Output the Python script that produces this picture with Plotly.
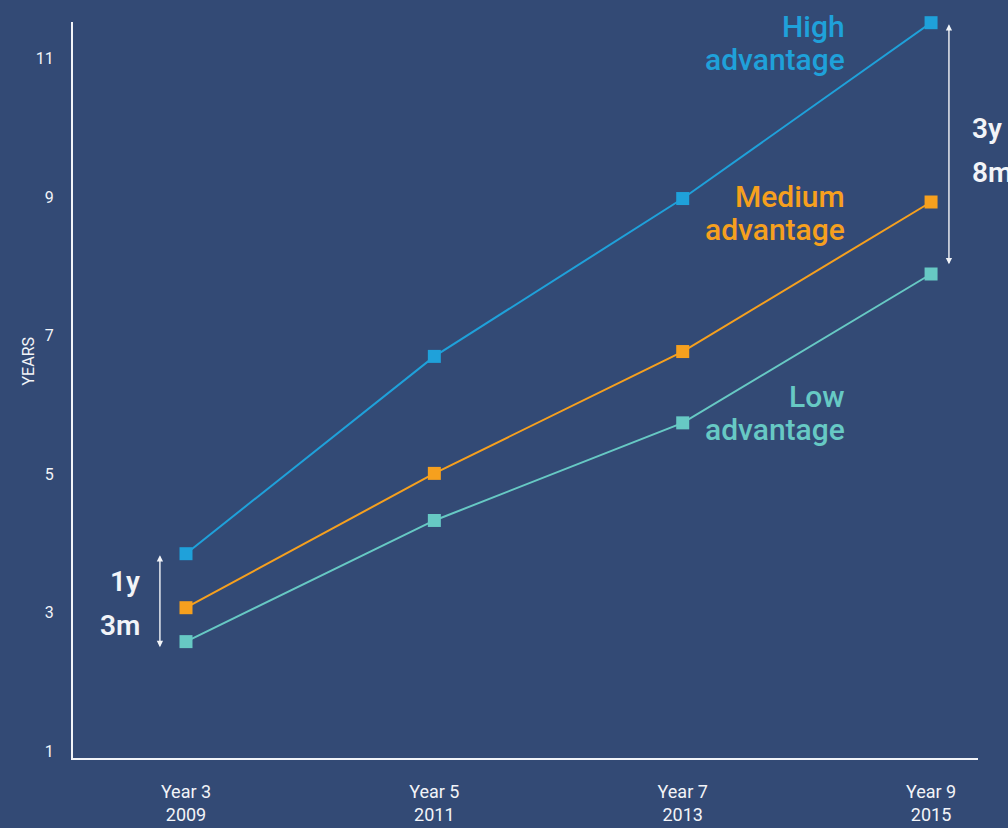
import plotly.graph_objects as go

# ---- data ----
year_labels = ["Year 3", "Year 5", "Year 7", "Year 9"]
calendar_years = ["2009", "2011", "2013", "2015"]
high_adv = [3.85, 6.70, 8.98, 11.52]
medium_adv = [3.07, 5.01, 6.77, 8.93]
low_adv = [2.58, 4.33, 5.74, 7.89]
y_tick_vals = [1, 3, 5, 7, 9, 11]
gap_start_label = "1y<br>3m"
gap_end_label = "3y<br>8m"

BG = "#334a75"
C_HIGH = "#1fa1da"
C_MED = "#f6a01e"
C_LOW = "#67c9c4"
WHITE = "#f2f4f8"

x = list(range(len(year_labels)))
ticktext = [f"{a}<br>{b}" for a, b in zip(year_labels, calendar_years)]

fig = go.Figure()
for name, vals, col in [("High advantage", high_adv, C_HIGH),
                        ("Medium advantage", medium_adv, C_MED),
                        ("Low advantage", low_adv, C_LOW)]:
    fig.add_trace(go.Scatter(
        x=x, y=vals, mode="lines+markers", name=name,
        line=dict(color=col, width=2),
        marker=dict(symbol="square", size=13, color=col),
        cliponaxis=False, showlegend=False, hoverinfo="skip"))

label_font = dict(family="Roboto", size=30, weight=500)
annotations = []
# series labels (two lines each, tight line spacing)
for (l1, l2, ymid, col) in [("High", "advantage", 11.23, C_HIGH),
                            ("Medium", "advantage", 8.77, C_MED),
                            ("Low", "advantage", 5.88, C_LOW)]:
    annotations.append(dict(x=2.66, y=ymid + 0.235, xref="x", yref="y", text=l1,
                            showarrow=False, xanchor="right", yanchor="middle",
                            font=dict(color=col, **label_font)))
    annotations.append(dict(x=2.66, y=ymid - 0.235, xref="x", yref="y", text=l2,
                            showarrow=False, xanchor="right", yanchor="middle",
                            font=dict(color=col, **label_font)))

# gap arrows
for xa, top, bot in [(-0.105, high_adv[0], low_adv[0] - 0.08),
                     (3.072, high_adv[3], low_adv[3] + 0.14)]:
    annotations.append(dict(x=xa, y=bot, ax=xa, ay=top, xref="x", yref="y",
                            axref="x", ayref="y", text="", showarrow=True,
                            arrowhead=2, startarrowhead=2, arrowside="end+start",
                            arrowsize=0.9, startarrowsize=0.9, arrowwidth=1.4,
                            arrowcolor=WHITE, standoff=0, startstandoff=0))

gap_font = dict(family="Roboto", size=28, weight=600, color=WHITE)
mid0 = (high_adv[0] + low_adv[0]) / 2
mid3 = (high_adv[3] + low_adv[3]) / 2
for txt, xa, xanchor, ym in [(gap_start_label, -0.178, "right", mid0 - 0.08),
                             (gap_end_label, 3.157, "left", mid3 - 0.03)]:
    l1, l2 = txt.split("<br>")
    annotations.append(dict(x=xa, y=ym + 0.32, xref="x", yref="y", text=l1,
                            showarrow=False, xanchor=xanchor, yanchor="middle",
                            font=gap_font))
    annotations.append(dict(x=xa, y=ym - 0.32, xref="x", yref="y", text=l2,
                            showarrow=False, xanchor=xanchor, yanchor="middle",
                            font=gap_font))

plot_w = 1008 - 73 - 30
plot_h = 828 - 22 - 70
# y axis title (positioned in pixels, converted to paper coords)
annotations.append(dict(x=(16 - 73) / plot_w, y=(828 - 70 - 361) / plot_h,
                        xref="paper", yref="paper", text="YEARS",
                        showarrow=False, textangle=-90,
                        font=dict(family="Roboto", size=16, color=WHITE, weight=400)))

fig.update_layout(
    width=1008, height=828,
    paper_bgcolor=BG, plot_bgcolor=BG,
    margin=dict(l=73, r=30, t=22, b=70),
    showlegend=False,
    annotations=annotations,
    xaxis=dict(range=[-0.455, 3.189], tickvals=x, ticktext=ticktext,
               showgrid=False, zeroline=False, showline=True, linecolor=WHITE,
               linewidth=2, ticks="", ticklabelstandoff=16, automargin=False,
               tickfont=dict(family="Roboto", size=18, color=WHITE, weight=400)),
    yaxis=dict(range=[0.899, 11.53], tickvals=y_tick_vals,
               showgrid=False, zeroline=False, showline=True, linecolor=WHITE,
               linewidth=2, ticks="", ticklabelstandoff=14, automargin=False,
               tickfont=dict(family="Roboto", size=16, color=WHITE, weight=400)),
)

fig.write_html("out.html")
